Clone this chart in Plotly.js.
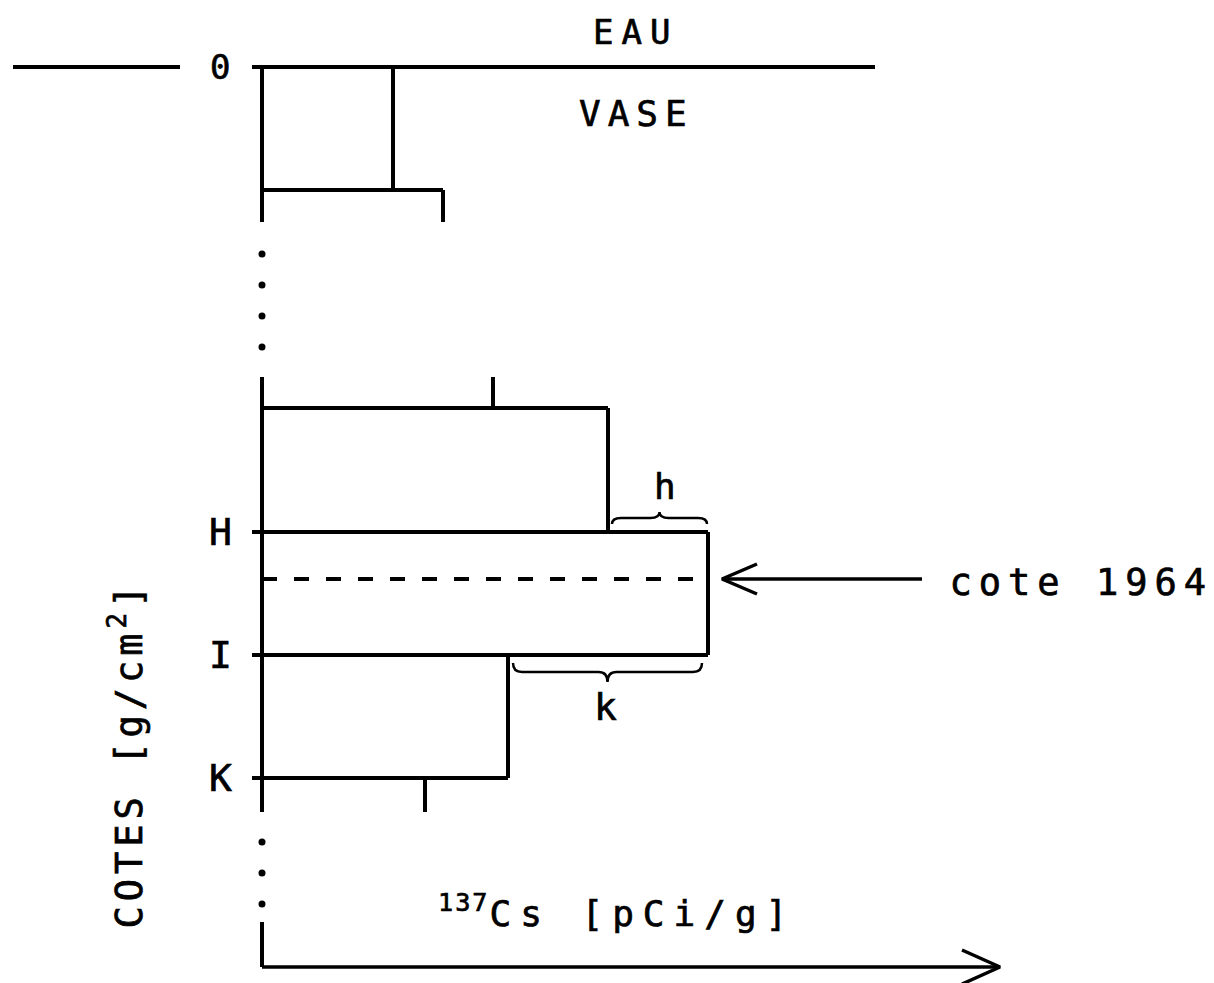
<!DOCTYPE html>
<html>
<head>
<meta charset="utf-8">
<script src="https://cdn.plot.ly/plotly-3.0.1.min.js"></script>
<style>
html,body{margin:0;padding:0;background:#fff;}
#chart{width:1214px;height:983px;}
</style>
</head>
<body>
<div id="chart"></div>
<script>
// ---- data (schematic units: depth in g/cm2-like units, Cs activity in pCi/g-like units) ----
const layerLabels = ['0', 'H', 'I', 'K'];
const labelDepths = [0, 46.5, 58.8, 71.1];

// upper section of the profile (top of the core)
const upperBounds = [0, 12.3, 15.5];
const upperCs = [13.1, 18.1];

// lower section of the profile (around the 1964 peak)
const lowerBounds = [31.0, 34.1, 46.5, 58.8, 71.1, 74.5];
const lowerCs = [23.1, 34.6, 44.6, 24.6, 16.3];

const cote1964Depth = 51.2;
const gapDots1 = [18.7, 21.8, 24.9, 28.0];
const gapDots2 = [77.5, 80.6, 83.7];
const axisBottomSection = [85.5, 90.0];
const xAxisEnd = 73.8;
const waterLineEnd = 61.3;
const waterLineLeft = [-24.9, -8.2];

const texts = {
  water: 'EAU', mud: 'VASE', cote: 'cote 1964',
  xTitle: '<sup>137</sup>Cs [pCi/g]', yTitle: 'COTES [g/cm<sup>2</sup>]',
  h: 'h', k: 'k'
};

// ---- build geometry from data ----
const FONT = 'DejaVu Sans Mono, Liberation Mono, monospace';
const LW = 4;
const isLabelled = d => labelDepths.indexOf(d) >= 0;

function stepProfile(bounds, vals) {
  const xs = [], ys = [];
  xs.push(vals[0], vals[0], null); ys.push(bounds[0], bounds[1], null);
  for (let i = 1; i < vals.length; i++) {
    const x0 = isLabelled(bounds[i]) ? -1.0 : 0;
    xs.push(x0, Math.max(vals[i - 1], vals[i]), null);
    ys.push(bounds[i], bounds[i], null);
    xs.push(vals[i], vals[i], null);
    ys.push(bounds[i], bounds[i + 1], null);
  }
  return {xs, ys};
}

const up = stepProfile(upperBounds, upperCs);
const lo = stepProfile(lowerBounds, lowerCs);

const lineStyle = {color: '#000', width: LW};

const traces = [];
traces.push({x: [-1.0, waterLineEnd, null, waterLineLeft[0], waterLineLeft[1]],
             y: [0, 0, null, 0, 0], mode: 'lines', line: lineStyle, hoverinfo: 'skip'});
traces.push({x: [0, 0, null, 0, 0, null, 0, 0],
             y: [upperBounds[0], upperBounds[upperBounds.length - 1], null,
                 lowerBounds[0], lowerBounds[lowerBounds.length - 1], null,
                 axisBottomSection[0], axisBottomSection[1]],
             mode: 'lines', line: lineStyle, hoverinfo: 'skip'});
traces.push({x: up.xs, y: up.ys, mode: 'lines', line: lineStyle, hoverinfo: 'skip'});
traces.push({x: lo.xs, y: lo.ys, mode: 'lines', line: lineStyle, hoverinfo: 'skip'});
const dots = gapDots1.concat(gapDots2);
traces.push({x: dots.map(() => 0), y: dots, mode: 'markers',
             marker: {color: '#000', size: 7}, hoverinfo: 'skip'});
const peak = lowerCs[2];
traces.push({x: [0, peak], y: [cote1964Depth, cote1964Depth], mode: 'lines',
             line: {color: '#000', width: LW, dash: '15px,17px'}, hoverinfo: 'skip'});
const tip = peak + 1.4;
traces.push({x: [66.0, tip, null, tip + 3.5, tip, tip + 3.5],
             y: [cote1964Depth, cote1964Depth, null, cote1964Depth - 1.5, cote1964Depth, cote1964Depth + 1.5],
             mode: 'lines', line: {color: '#000', width: 3.5}, hoverinfo: 'skip'});
const yb = axisBottomSection[1];
traces.push({x: [0, xAxisEnd, null, xAxisEnd - 3.8, xAxisEnd, xAxisEnd - 3.8],
             y: [yb, yb, null, yb - 1.7, yb, yb + 1.7],
             mode: 'lines', line: {color: '#000', width: 3.5}, hoverinfo: 'skip'});

// ---- braces h and k ----
function brace(x0, x1, yEnd, yMid, yPeak) {
  const xc = (x0 + x1) / 2, d = 0.9;
  return `M ${x0},${yEnd} Q ${x0},${yMid} ${x0 + d},${yMid} L ${xc - d},${yMid} Q ${xc},${yMid} ${xc},${yPeak}` +
         ` Q ${xc},${yMid} ${xc + d},${yMid} L ${x1 - d},${yMid} Q ${x1},${yMid} ${x1},${yEnd}`;
}
const hDepth = lowerBounds[2], iDepth = lowerBounds[3];
const shapes = [
  {type: 'path', xref: 'x', yref: 'y', path: brace(lowerCs[1] + 0.4, peak - 0.1, hDepth - 0.8, hDepth - 1.4, hDepth - 2.0),
   line: {color: '#000', width: 2.5}},
  {type: 'path', xref: 'x', yref: 'y', path: brace(lowerCs[3] + 0.5, peak - 0.6, iDepth + 0.8, iDepth + 1.7, iDepth + 2.7),
   line: {color: '#000', width: 2.5}}
];

// ---- annotations ----
const ann = (x, y, text, size, extra) => Object.assign({x, y, xref: 'x', yref: 'y', text, showarrow: false,
  font: {family: FONT, size, color: '#000'}}, extra || {});
const annotations = [
  ann(37.3, -3.5, texts.water, 34),
  ann(37.4, 4.6, texts.mud, 36),
  ann(40.3, hDepth - 4.6, texts.h, 36),
  ann(34.3, iDepth + 5.2, texts.k, 38),
  ann(81.9, cote1964Depth + 0.3, texts.cote, 37),
  ann(35.5, 84.4, texts.xTitle, 36),
  ann(-13.6, 68.8, texts.yTitle, 37, {textangle: -90})
];
layerLabels.forEach((lab, i) => annotations.push(ann(-4.2, labelDepths[i], lab, i === 0 ? 34 : 38)));

// per-annotation letter spacing (px) to mimic the plotter lettering
const letterSpacing = [8, 7, 0, 0, 7, 9, 5, 0, 0, 0, 0];

const layout = {
  width: 1214, height: 983,
  margin: {l: 0, r: 0, t: 0, b: 0, pad: 0},
  paper_bgcolor: '#fff', plot_bgcolor: '#fff',
  showlegend: false,
  xaxis: {range: [-26.2, 95.2], visible: false, fixedrange: true},
  yaxis: {range: [91.6, -6.7], visible: false, fixedrange: true},
  shapes, annotations
};

Plotly.newPlot('chart', traces, layout, {staticPlot: true, displayModeBar: false}).then(gd => {
  gd.querySelectorAll('g.annotation').forEach(g => {
    const i = +g.getAttribute('data-index');
    const t = g.querySelector('text.annotation-text');
    if (!t) return;
    t.style.stroke = '#000';
    t.style.strokeWidth = '0.7px';
    if (letterSpacing[i]) {
      t.style.letterSpacing = letterSpacing[i] + 'px';
      t.querySelectorAll('tspan').forEach(ts => {
        if (/^\d+$/.test(ts.textContent) && ts.textContent.length <= 3 && i === 5) ts.style.letterSpacing = '2px';
      });
    }
  });
});
</script>
</body>
</html>
